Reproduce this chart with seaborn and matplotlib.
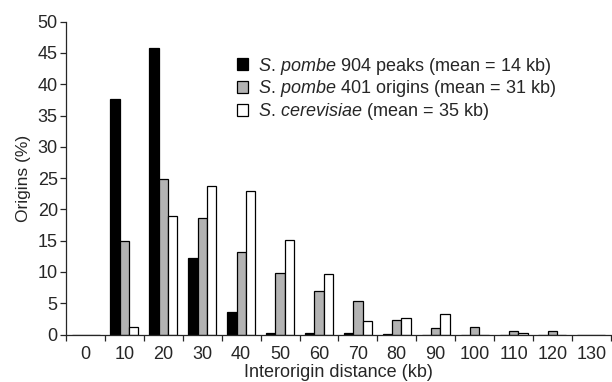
import matplotlib
matplotlib.use("Agg")
import matplotlib.pyplot as plt
import seaborn as sns
import pandas as pd
import numpy as np
from matplotlib.patches import Patch

categories = ["0", "10", "20", "30", "40", "50", "60", "70", "80", "90", "100", "110", "120", "130"]
pombe_peaks = [0, 37.6, 45.8, 12.2, 3.6, 0.2, 0.2, 0.3, 0.1, 0, 0, 0, 0, 0]
pombe_origins = [0, 14.9, 24.9, 18.7, 13.2, 9.9, 7.0, 5.4, 2.4, 1.0, 1.2, 0.5, 0.5, 0]
cerevisiae = [0, 1.2, 19.0, 23.8, 22.9, 15.1, 9.6, 2.1, 2.7, 3.3, 0, 0.3, 0, 0]
series_names = ["peaks", "origins", "cerevisiae"]
colors = ["#000000", "#b3b3b3", "#ffffff"]

df = pd.DataFrame({
    "dist": categories * 3,
    "val": pombe_peaks + pombe_origins + cerevisiae,
    "series": [series_names[0]] * 14 + [series_names[1]] * 14 + [series_names[2]] * 14,
})

sns.set_style("ticks")
plt.rcParams["font.family"] = ["Liberation Sans", "DejaVu Sans"]
plt.rcParams["mathtext.fontset"] = "custom"
plt.rcParams["mathtext.rm"] = "Liberation Sans"
plt.rcParams["mathtext.it"] = "Liberation Sans:italic"

fig = plt.figure(figsize=(6.12, 3.82), dpi=100)
ax = fig.add_axes([0.108, 0.1243, 0.890, 0.8189])
sns.barplot(data=df, x="dist", y="val", hue="series", order=categories,
            hue_order=series_names, palette=colors, edgecolor="black",
            linewidth=0.9, width=0.72, ax=ax, legend=False, saturation=1)

ax.set_xlim(-0.5, 13.5)
ax.set_ylim(0, 50)
ax.set_yticks(np.arange(0, 51, 5))
ax.tick_params(axis="y", labelsize=13, length=4, width=0.9, direction="out", pad=2)
ax.set_xticks(np.arange(14))
ax.set_xticklabels(categories)
ax.tick_params(axis="x", which="major", length=0, labelsize=13, pad=8)
ax.set_xticks(np.arange(-0.5, 13.6, 1), minor=True)
ax.tick_params(axis="x", which="minor", length=4, width=0.9, direction="out")
for s in ["top", "right"]:
    ax.spines[s].set_visible(False)
for s in ["left", "bottom"]:
    ax.spines[s].set_linewidth(0.9)
ax.set_xlabel("Interorigin distance (kb)", fontsize=13, labelpad=1)
ax.set_ylabel("Origins (%)", fontsize=12.5, labelpad=5)

handles = [Patch(facecolor=c, edgecolor="black", linewidth=0.9) for c in colors]
labels = [r"$\mathit{S.\,pombe}$ 904 peaks (mean = 14 kb)",
          r"$\mathit{S.\,pombe}$ 401 origins (mean = 31 kb)",
          r"$\mathit{S.\,cerevisiae}$ (mean = 35 kb)"]
ax.legend(handles, labels, loc="upper left", bbox_to_anchor=(0.30, 0.915),
          frameon=False, fontsize=13, handlelength=0.65, handleheight=0.65,
          handletextpad=0.55, labelspacing=0.1, borderaxespad=0)

fig.savefig("out.png", dpi=100)
